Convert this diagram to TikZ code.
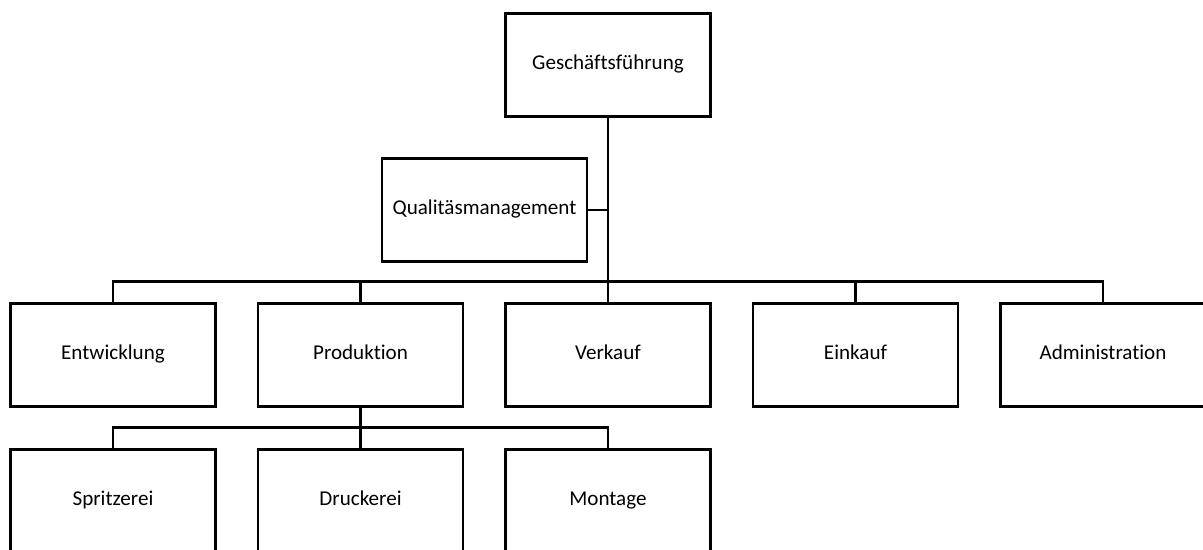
\documentclass[tikz,border=0pt]{standalone}
\usepackage{fontspec}
\setmainfont{Carlito}[Ligatures=NoCommon]
\usetikzlibrary{positioning}

\begin{document}
\begin{tikzpicture}[node distance=4.95cm,on grid,line width=1.4pt,
    unit/.style={draw,rectangle,minimum width=4.1cm,minimum height=2.06cm,
      inner sep=0pt,text height=1.6ex,text depth=0.5ex,font=\fontsize{12}{14}\selectfont}]
        \clip (0,0) rectangle (24.06,-11);
        \node[unit] (gf) at (12.16,-1.3) {Geschäftsführung};
        \node[unit] (qm) [below left=2.9cm and 2.47cm of gf] {Qualitäsmanagement};
        \node[unit] (verkauf) [below=5.8cm of gf] {Verkauf};
        \node[unit] (produktion) [left=of verkauf] {Produktion};
        \node[unit] (entwicklung) [left=of produktion] {Entwicklung};
        \node[unit] (einkauf) [right=of verkauf] {Einkauf};
        \node[unit] (admin) [right=of einkauf] {Administration};
        \node[unit] (druckerei) [below=2.92cm of produktion] {Druckerei};
        \node[unit] (spritzerei) [left=of druckerei] {Spritzerei};
        \node[unit] (montage) [right=of druckerei] {Montage};
        \coordinate[above=0.42cm of verkauf.north] (hub);
        \coordinate[above=0.42cm of druckerei.north] (subhub);
        % Linien
        \draw (gf.south) -- (hub);
        \draw (qm.east) -- (qm.east -| gf);
        \draw (entwicklung.north) |- (hub) -| (admin.north);
        \foreach \u in {produktion,verkauf,einkauf}
            \draw (\u.north) -- (\u.north |- hub);
        \draw (produktion.south) -- (druckerei.north);
        \draw (spritzerei.north) |- (subhub) -| (montage.north);
      \end{tikzpicture}
\end{document}
